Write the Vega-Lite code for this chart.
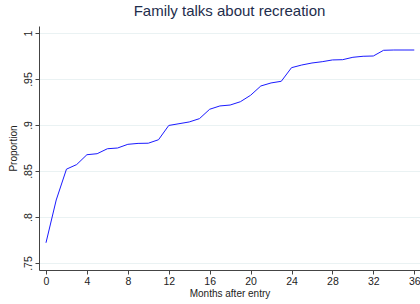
{
  "$schema": "https://vega.github.io/schema/vega-lite/v6.json",
  "width": 381,
  "height": 244,
  "autosize": {"type": "none"},
  "padding": {"left": 39, "top": 26, "right": 0, "bottom": 34},
  "background": "white",
  "config": {
    "view": {"stroke": null},
    "font": "Liberation Sans"
  },
  "title": {
    "text": "Family talks about recreation",
    "font": "Liberation Sans",
    "fontSize": 15,
    "fontWeight": "normal",
    "color": "#1e2d4c",
    "anchor": "middle",
    "frame": "group",
    "offset": 7
  },
  "data": {
    "values": [
      {"month": 0, "p": 0.772},
      {"month": 1, "p": 0.8185},
      {"month": 2, "p": 0.852},
      {"month": 3, "p": 0.857},
      {"month": 4, "p": 0.8677},
      {"month": 5, "p": 0.8688},
      {"month": 6, "p": 0.8742},
      {"month": 7, "p": 0.875},
      {"month": 8, "p": 0.879},
      {"month": 9, "p": 0.88},
      {"month": 10, "p": 0.8802},
      {"month": 11, "p": 0.884},
      {"month": 12, "p": 0.8995},
      {"month": 13, "p": 0.9014},
      {"month": 14, "p": 0.9033},
      {"month": 15, "p": 0.9069},
      {"month": 16, "p": 0.9171},
      {"month": 17, "p": 0.9207},
      {"month": 18, "p": 0.9217},
      {"month": 19, "p": 0.9253},
      {"month": 20, "p": 0.9323},
      {"month": 21, "p": 0.9424},
      {"month": 22, "p": 0.9457},
      {"month": 23, "p": 0.9475},
      {"month": 24, "p": 0.9623},
      {"month": 25, "p": 0.9652},
      {"month": 26, "p": 0.9674},
      {"month": 27, "p": 0.9688},
      {"month": 28, "p": 0.9707},
      {"month": 29, "p": 0.971},
      {"month": 30, "p": 0.9736},
      {"month": 31, "p": 0.9747},
      {"month": 32, "p": 0.975},
      {"month": 33, "p": 0.9812},
      {"month": 34, "p": 0.9815},
      {"month": 35, "p": 0.9815},
      {"month": 36, "p": 0.9815}
    ]
  },
  "mark": {"type": "line", "color": "#1a1aff", "strokeWidth": 1},
  "encoding": {
    "x": {
      "field": "month",
      "type": "quantitative",
      "scale": {"domain": [-0.684, 36.56], "nice": false, "zero": false},
      "axis": {
        "values": [0, 4, 8, 12, 16, 20, 24, 28, 32, 36],
        "title": "Months after entry",
        "titleFont": "Liberation Sans",
        "titleFontSize": 10,
        "titleFontWeight": "normal",
        "titleColor": "#222222",
        "titleX": 190.5,
        "titleY": 23,
        "titleBaseline": "middle",
        "labelFont": "Liberation Sans",
        "labelFontSize": 10.5,
        "labelColor": "#222222",
        "labelPadding": 2,
        "tickSize": 4,
        "tickColor": "#444444",
        "domainColor": "#444444",
        "grid": false,
        "labelFlush": false
      }
    },
    "y": {
      "field": "p",
      "type": "quantitative",
      "scale": {"domain": [0.7424, 1.0076], "nice": false, "zero": false},
      "axis": {
        "values": [0.75, 0.8, 0.85, 0.9, 0.95, 1],
        "labelExpr": "replace(format(datum.value, '.2~f'), /^0/, '')",
        "title": "Proportion",
        "titleFont": "Liberation Sans",
        "titleFontSize": 10,
        "titleFontWeight": "normal",
        "titleColor": "#222222",
        "titleAngle": -90,
        "titleX": -26,
        "titleY": 122,
        "titleAlign": "center",
        "titleBaseline": "middle",
        "labelFont": "Liberation Sans",
        "labelFontSize": 10.5,
        "labelColor": "#222222",
        "labelAngle": -90,
        "labelAlign": "center",
        "labelBaseline": "bottom",
        "labelPadding": 2,
        "tickSize": 4,
        "tickColor": "#444444",
        "domainColor": "#444444",
        "grid": true,
        "gridColor": "#eaf2f3",
        "gridWidth": 1,
        "labelFlush": false
      }
    }
  }
}
